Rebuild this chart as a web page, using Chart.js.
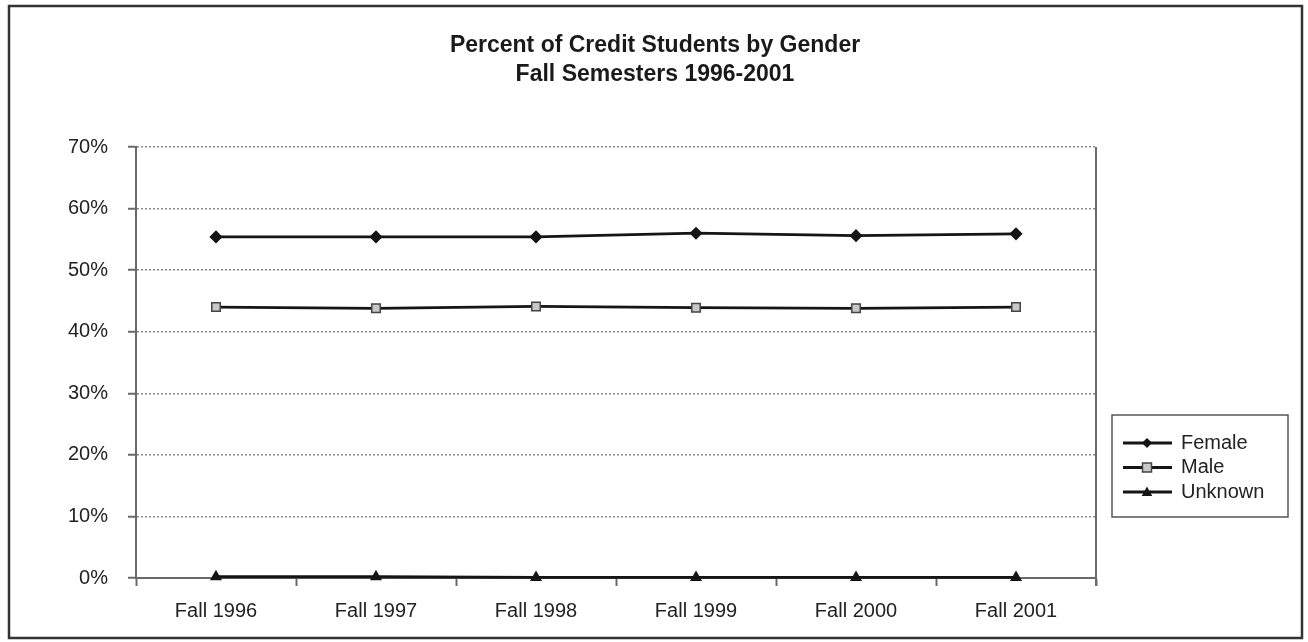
<!DOCTYPE html>
<html>
<head>
<meta charset="utf-8">
<script src="https://cdn.jsdelivr.net/npm/chart.js@4.4.1/dist/chart.umd.min.js"></script>
<style>
  html, body { margin: 0; padding: 0; background: #fff; }
  #wrap { width: 1308px; height: 642px; position: relative; }
</style>
</head>
<body>
<div id="wrap"><canvas id="c" width="1308" height="642"></canvas></div>
<script>
// Enrollment share by gender, fall semesters
const semesters = ['Fall 1996', 'Fall 1997', 'Fall 1998', 'Fall 1999', 'Fall 2000', 'Fall 2001'];
const female  = [55.4, 55.4, 55.4, 56.0, 55.6, 55.9];
const male    = [44.0, 43.8, 44.1, 43.9, 43.8, 44.0];
const unknown = [0.2, 0.2, 0.1, 0.1, 0.1, 0.1];
const yTickValues = [0, 10, 20, 30, 40, 50, 60, 70];
const titleLines = ['Percent of Credit Students by Gender', 'Fall Semesters 1996-2001'];
const seriesNames = ['Female', 'Male', 'Unknown'];

const FONT = '"Liberation Sans", Arial, Helvetica, sans-serif';
const AXIS_GRAY = '#6a6a6a';

// Outer frame around the whole figure
const framePlugin = {
  id: 'frame',
  beforeDraw(chart) {
    const ctx = chart.ctx;
    ctx.save();
    ctx.fillStyle = '#fff';
    ctx.fillRect(0, 0, chart.width, chart.height);
    ctx.strokeStyle = '#333';
    ctx.lineWidth = 2.5;
    ctx.strokeRect(9, 6, 1293, 632);
    ctx.restore();
  }
};

// Two-line heading centered on the figure
const headingPlugin = {
  id: 'heading',
  afterDraw(chart) {
    const ctx = chart.ctx;
    ctx.save();
    ctx.fillStyle = '#1a1a1a';
    ctx.font = 'bold 23px ' + FONT;
    ctx.textAlign = 'center';
    ctx.textBaseline = 'middle';
    ctx.fillText(titleLines[0], 655, 46);
    ctx.fillText(titleLines[1], 655, 75);
    ctx.restore();
  }
};

// Right edge of the plot area
const plotEdgePlugin = {
  id: 'plotEdge',
  afterDraw(chart) {
    const { ctx, chartArea } = chart;
    ctx.save();
    ctx.strokeStyle = AXIS_GRAY;
    ctx.lineWidth = 2;
    ctx.beginPath();
    ctx.moveTo(chartArea.right, chartArea.top);
    ctx.lineTo(chartArea.right, chartArea.bottom + 8);
    ctx.stroke();
    ctx.restore();
  }
};

// Boxed legend with line + marker samples
const boxLegendPlugin = {
  id: 'boxLegend',
  afterDraw(chart) {
    const ctx = chart.ctx;
    const x0 = 1112, y0 = 415, w = 176, h = 102;
    ctx.save();
    ctx.strokeStyle = '#555';
    ctx.lineWidth = 1.5;
    ctx.strokeRect(x0, y0, w, h);
    chart.data.datasets.forEach((ds, i) => {
      const y = 443 + i * 24.5;
      const cx = 1147;
      ctx.strokeStyle = ds.borderColor;
      ctx.lineWidth = ds.borderWidth;
      ctx.beginPath();
      ctx.moveTo(1123, y);
      ctx.lineTo(1172, y);
      ctx.stroke();
      ctx.fillStyle = ds.pointBackgroundColor;
      ctx.strokeStyle = ds.pointBorderColor;
      ctx.lineWidth = ds.pointBorderWidth;
      ctx.beginPath();
      const r = ds.pointRadius - 1.5;
      if (ds.pointStyle === 'rect') {
        ctx.rect(cx - r, y - r, 2 * r, 2 * r);
      } else if (ds.pointStyle === 'rectRot') {
        ctx.moveTo(cx, y - r); ctx.lineTo(cx + r, y); ctx.lineTo(cx, y + r); ctx.lineTo(cx - r, y); ctx.closePath();
      } else {
        ctx.moveTo(cx, y - r); ctx.lineTo(cx + r, y + r * 0.8); ctx.lineTo(cx - r, y + r * 0.8); ctx.closePath();
      }
      ctx.fill();
      ctx.stroke();
      ctx.fillStyle = '#222';
      ctx.font = '20px ' + FONT;
      ctx.textAlign = 'left';
      ctx.textBaseline = 'middle';
      ctx.fillText(ds.label, 1181, y);
    });
    ctx.restore();
  }
};

const lineBase = {
  borderColor: '#151515',
  borderWidth: 2.8,
  tension: 0,
  clip: false,
  pointRadius: 5,
  pointHoverRadius: 5,
  pointBorderWidth: 1.5
};

new Chart(document.getElementById('c'), {
  type: 'line',
  data: {
    labels: semesters,
    datasets: [
      Object.assign({}, lineBase, {
        label: seriesNames[0], data: female,
        pointStyle: 'rectRot', pointRadius: 5.5,
        pointBackgroundColor: '#151515', pointBorderColor: '#151515'
      }),
      Object.assign({}, lineBase, {
        label: seriesNames[1], data: male,
        pointStyle: 'rect', pointRadius: 6,
        pointBackgroundColor: '#c8c8c8', pointBorderColor: '#444'
      }),
      Object.assign({}, lineBase, {
        label: seriesNames[2], data: unknown,
        pointStyle: 'triangle', pointRadius: 5.5,
        pointBackgroundColor: '#151515', pointBorderColor: '#151515'
      })
    ]
  },
  options: {
    responsive: false,
    animation: false,
    events: [],
    layout: { padding: { top: 147, right: 212, left: 0, bottom: 0 } },
    plugins: {
      legend: { display: false },
      title: { display: false },
      tooltip: { enabled: false }
    },
    scales: {
      x: {
        offset: true,
        afterFit(scale) { scale.height = 64; },
        grid: {
          offset: true,
          drawOnChartArea: false,
          drawTicks: true,
          tickLength: 8,
          tickColor: AXIS_GRAY,
          tickWidth: 2
        },
        border: { display: true, color: AXIS_GRAY, width: 2 },
        ticks: {
          color: '#222',
          font: { family: FONT, size: 20 },
          padding: 13,
          maxRotation: 0
        }
      },
      y: {
        min: 0,
        max: 70,
        afterFit(scale) { scale.width = 136; },
        afterBuildTicks(scale) { scale.ticks = yTickValues.map(v => ({ value: v })); },
        grid: {
          color: c => (c.tick && c.tick.value === 0) ? 'rgba(0,0,0,0)' : '#8a8a8a',
          lineWidth: 1.5,
          tickLength: 8,
          tickColor: AXIS_GRAY,
          tickWidth: 2,
          tickBorderDash: []
        },
        border: { display: true, color: AXIS_GRAY, width: 2, dash: [2, 2] },
        ticks: {
          color: '#222',
          font: { family: FONT, size: 20 },
          padding: 20,
          callback: v => v + '%'
        }
      }
    }
  },
  plugins: [framePlugin, headingPlugin, plotEdgePlugin, boxLegendPlugin]
});
</script>
</body>
</html>
